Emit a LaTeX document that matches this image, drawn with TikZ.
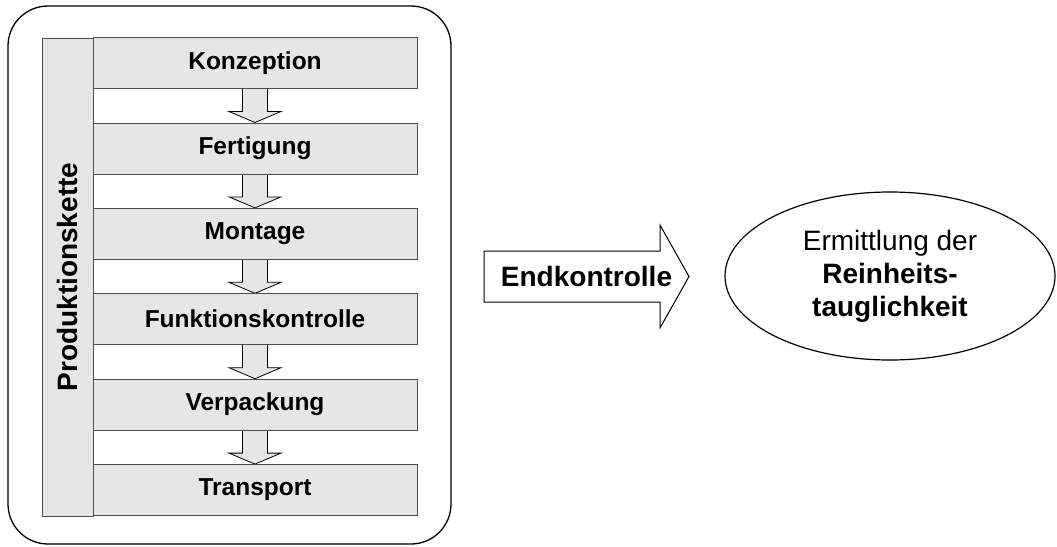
\documentclass[tikz,border=0pt]{standalone}
\usepackage{fontspec}
\setmainfont{Liberation Sans}
\usepackage{xcolor}
\usetikzlibrary{calc,backgrounds,shapes.geometric}
\definecolor{boxgrau}{HTML}{E6E6E6}
\definecolor{randgrau}{HTML}{4D4D4D}

\begin{document}
\begin{tikzpicture}[x=1pt,y=-1pt,
		stufe/.style={draw=randgrau,line width=0.8pt,fill=boxgrau,minimum width=324pt,minimum height=51pt,inner sep=0pt,font=\bfseries\fontsize{24.5}{28}\selectfont},
		kette/.style={draw=randgrau,line width=0.8pt,fill=boxgrau,rotate=90,minimum width=478pt,minimum height=51pt,inner sep=0pt,font=\bfseries\fontsize{28}{30}\selectfont},
		blockpfeil/.style={draw=black,line width=0.8pt,fill=boxgrau,line join=miter}]
		\useasboundingbox (0,0) rectangle (1057,546);
		\newcommand{\stufe}[3]{\node[stufe] (#1) at (255,#2) {#3};}
		\newcommand{\pfeil}[2]{\draw[blockpfeil] ($(#1.south)+(-12.5,0)$) -- ($(#2.north)+(-12.5,-11)$) -- ($(#2.north)+(-26,-11)$) -- (#2.north) -- ($(#2.north)+(26,-11)$) -- ($(#2.north)+(12.5,-11)$) -- ($(#1.south)+(12.5,0)$);}
		
		\draw[line width=1.3pt,rounded corners=40pt] (8,6) rectangle (451,544);
		
		\node[kette] (kette) at (67.5,277) {Produktionskette};
		
		\stufe{konz}{63}{Konzeption}
		\stufe{fert}{148.4}{Fertigung}
		\stufe{mont}{233.8}{Montage}
		\stufe{funk}{319.2}{Funktionskontrolle}
		\stufe{verp}{404.6}{Verpackung}
		\stufe{trans}{490}{Transport}
		
		\begin{scope}[on background layer]
			\pfeil{konz}{fert}
			\pfeil{fert}{mont}
			\pfeil{mont}{funk}
			\pfeil{funk}{verp}
			\pfeil{verp}{trans}
		\end{scope}
		
		\node[font=\bfseries\fontsize{28}{30}\selectfont] (endk) at (586.5,276.5) {Endkontrolle};
		\begin{scope}[on background layer]
			\draw[line width=1pt,fill=white,line join=miter] (484,251) -- (660,251) -- (660,225) -- (689,276.5) -- (660,328) -- (660,302) -- (484,302) -- cycle;
		\end{scope}
		
		\node[ellipse,draw,line width=1.2pt,minimum width=330pt,minimum height=168pt,inner sep=0pt,align=center,font=\fontsize{28}{33}\selectfont] (rein) at (890,276) {Ermittlung der\\\textbf{Reinheits-}\\\textbf{tauglichkeit}};
	\end{tikzpicture}
\end{document}
